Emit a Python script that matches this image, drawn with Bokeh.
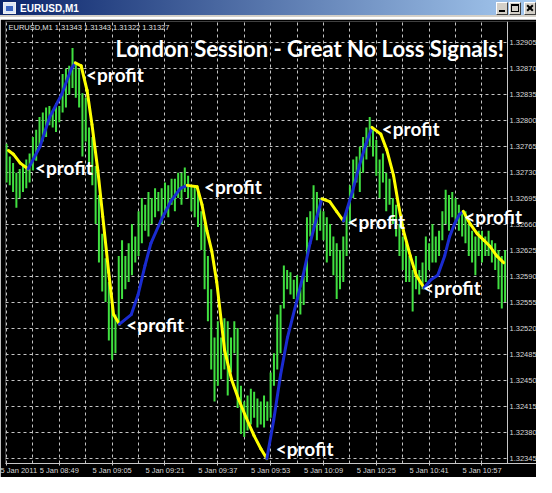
from bokeh.plotting import figure
from bokeh.models import Range1d, FixedTicker, Label, Div
from bokeh.core.properties import value
from bokeh.layouts import column
from bokeh.embed import file_html
from bokeh.resources import INLINE

# ---------------- data ----------------
high = [1.32769, 1.32752, 1.32743, 1.32730, 1.32735, 1.32739, 1.32748, 1.32756, 1.32778, 1.32788,
        1.32805, 1.32811, 1.32818, 1.32820, 1.32814, 1.32824, 1.32820, 1.32863, 1.32870, 1.32874,
        1.32898, 1.32879, 1.32870, 1.32837, 1.32831, 1.32791, 1.32778, 1.32739, 1.32700, 1.32648,
        1.32615, 1.32583, 1.32552, 1.32539, 1.32618, 1.32639, 1.32618, 1.32635, 1.32661, 1.32644,
        1.32678, 1.32696, 1.32687, 1.32704, 1.32696, 1.32709, 1.32704, 1.32709, 1.32717, 1.32713,
        1.32722, 1.32722, 1.32730, 1.32730, 1.32737, 1.32726, 1.32713, 1.32713, 1.32704, 1.32678,
        1.32661, 1.32618, 1.32573, 1.32508, 1.32530, 1.32508, 1.32534, 1.32530, 1.32508, 1.32530,
        1.32521, 1.32443, 1.32422, 1.32430, 1.32439, 1.32435, 1.32426, 1.32422, 1.32430, 1.32422,
        1.32461, 1.32487, 1.32539, 1.32552, 1.32605, 1.32599, 1.32596, 1.32586, 1.32592, 1.32573,
        1.32592, 1.32670, 1.32678, 1.32713, 1.32704, 1.32696, 1.32678, 1.32670, 1.32661, 1.32644,
        1.32635, 1.32626, 1.32644, 1.32678, 1.32713, 1.32748, 1.32752, 1.32765, 1.32778, 1.32791,
        1.32805, 1.32791, 1.32774, 1.32748, 1.32756, 1.32730, 1.32722, 1.32696, 1.32687, 1.32661,
        1.32644, 1.32635, 1.32618, 1.32599, 1.32618, 1.32599, 1.32609, 1.32644, 1.32635, 1.32661,
        1.32644, 1.32652, 1.32678, 1.32707, 1.32700, 1.32704, 1.32696, 1.32687, 1.32678, 1.32678,
        1.32661, 1.32652, 1.32644, 1.32652, 1.32652, 1.32644, 1.32652, 1.32639, 1.32635, 1.32626,
        1.32618, 1.32626]
low = [1.32717, 1.32713, 1.32704, 1.32683, 1.32696, 1.32704, 1.32709, 1.32717, 1.32733, 1.32746,
       1.32765, 1.32772, 1.32778, 1.32794, 1.32791, 1.32785, 1.32798, 1.32811, 1.32818, 1.32835,
       1.32844, 1.32831, 1.32818, 1.32752, 1.32772, 1.32739, 1.32713, 1.32661, 1.32609, 1.32570,
       1.32556, 1.32504, 1.32478, 1.32487, 1.32530, 1.32560, 1.32573, 1.32583, 1.32592, 1.32609,
       1.32618, 1.32635, 1.32652, 1.32644, 1.32661, 1.32670, 1.32678, 1.32661, 1.32678, 1.32670,
       1.32687, 1.32678, 1.32696, 1.32687, 1.32704, 1.32696, 1.32678, 1.32670, 1.32657, 1.32626,
       1.32573, 1.32530, 1.32465, 1.32422, 1.32443, 1.32452, 1.32465, 1.32430, 1.32461, 1.32487,
       1.32413, 1.32378, 1.32374, 1.32383, 1.32391, 1.32400, 1.32387, 1.32391, 1.32387, 1.32396,
       1.32400, 1.32443, 1.32465, 1.32487, 1.32547, 1.32573, 1.32566, 1.32560, 1.32556, 1.32539,
       1.32552, 1.32583, 1.32644, 1.32652, 1.32639, 1.32652, 1.32639, 1.32609, 1.32618, 1.32592,
       1.32560, 1.32573, 1.32583, 1.32618, 1.32661, 1.32696, 1.32717, 1.32704, 1.32730, 1.32748,
       1.32765, 1.32752, 1.32726, 1.32696, 1.32717, 1.32678, 1.32687, 1.32661, 1.32644, 1.32618,
       1.32599, 1.32583, 1.32583, 1.32543, 1.32573, 1.32566, 1.32573, 1.32583, 1.32599, 1.32609,
       1.32609, 1.32618, 1.32639, 1.32661, 1.32652, 1.32670, 1.32661, 1.32652, 1.32644, 1.32635,
       1.32618, 1.32609, 1.32592, 1.32618, 1.32609, 1.32618, 1.32618, 1.32609, 1.32599, 1.32573,
       1.32547, 1.32556]
bar_index = list(range(len(high)))

# smoothed signal line (bar position, price)
ma_x = [0.60, 2.08, 4.17, 6.55, 10.12, 13.09, 16.66, 19.64, 20.83, 22.61, 24.40, 25.89, 27.67,
        29.16, 30.95, 32.43, 34.21, 37.79, 39.87, 41.95, 43.73, 46.71, 49.69, 52.67, 54.75, 57.72,
        59.21, 60.69, 62.19, 63.67, 66.05, 68.13, 70.21, 72.59, 74.97, 77.07, 78.85, 80.93, 83.01,
        85.09, 88.07, 89.85, 91.93, 94.02, 95.51, 97.89, 99.97, 102.05, 104.73, 106.81, 108.89,
        110.68, 113.36, 115.15, 117.23, 118.71, 120.21, 122.29, 124.07, 126.45, 128.53, 130.61,
        132.70, 134.19, 135.67, 137.16, 138.35, 140.43, 142.52, 144.60, 146.38, 148.47, 150.55]
ma_y = [1.32760, 1.32755, 1.32743, 1.32735, 1.32765, 1.32805, 1.32835, 1.32870, 1.32878, 1.32874,
        1.32841, 1.32795, 1.32733, 1.32671, 1.32596, 1.32539, 1.32526, 1.32539, 1.32566, 1.32605,
        1.32635, 1.32665, 1.32691, 1.32709, 1.32713, 1.32711, 1.32687, 1.32652, 1.32624, 1.32583,
        1.32491, 1.32452, 1.32426, 1.32400, 1.32376, 1.32358, 1.32345, 1.32397, 1.32458, 1.32508,
        1.32560, 1.32592, 1.32635, 1.32671, 1.32695, 1.32691, 1.32678, 1.32665, 1.32704, 1.32739,
        1.32769, 1.32791, 1.32782, 1.32761, 1.32726, 1.32687, 1.32652, 1.32618, 1.32592, 1.32575,
        1.32586, 1.32592, 1.32618, 1.32644, 1.32661, 1.32674, 1.32678, 1.32661, 1.32648, 1.32639,
        1.32631, 1.32618, 1.32609]

# "<profit" notes (bar position, price)
profit_x = [8.63, 24.10, 36.30, 59.80, 81.52, 103.24, 113.66, 126.15, 138.65]
profit_y = [1.32737, 1.32862, 1.32525, 1.32712, 1.32358, 1.32664, 1.32789, 1.32575, 1.32671]

time_ticks = [0, 16, 32, 48, 64, 80, 96, 112, 128, 144]
time_labels = ["5 Jan 2011", "5 Jan 08:49", "5 Jan 09:05", "5 Jan 09:21", "5 Jan 09:37",
               "5 Jan 09:53", "5 Jan 10:09", "5 Jan 10:25", "5 Jan 10:41", "5 Jan 10:57"]
grid_ticks = [0, 8, 16, 24, 32, 40, 48, 56, 64, 72, 80, 88, 96, 104, 112, 120, 128, 136, 144, 152]
price_ticks = [1.32345, 1.32380, 1.32415, 1.32450, 1.32485, 1.32520, 1.32555, 1.32590, 1.32625,
               1.32660, 1.32695, 1.32730, 1.32765, 1.32800, 1.32835, 1.32870, 1.32905]
price_labels = ["1.32345", "1.32380", "1.32415", "1.32450", "1.32485", "1.32520", "1.32555",
                "1.32590", "1.32625", "1.32660", "1.32695", "1.32730", "1.32765", "1.32800",
                "1.32835", "1.32870", "1.32905"]

symbol_line = "EURUSD,M1  1.31343 1.31343 1.31322 1.31327"
title_text = "London Session - Great No Loss Signals!"
window_title = "EURUSD,M1"

# layout positions on the time axis (in bar units)
x_start, x_end = -0.297, 160.51
price_axis_x = 151.73      # price scale line
price_label_x = 152.33     # price scale labels
y_bottom, y_top = 1.323384, 1.329337

# ---------------- figure ----------------
p = figure(width=536, height=458, output_backend="svg", toolbar_location=None,
           x_range=Range1d(x_start, x_end), y_range=Range1d(y_bottom, y_top),
           y_axis_location=None,
           min_border_left=5, min_border_right=0, min_border_top=2, min_border_bottom=11,
           background_fill_color="black", border_fill_color="black",
           outline_line_color=None)

grid_color = "#c4c4c4"
p.xgrid.ticker = FixedTicker(ticks=grid_ticks)
p.xgrid.grid_line_color = grid_color
p.xgrid.grid_line_dash = "3 3"
p.ygrid.ticker = FixedTicker(ticks=price_ticks)
p.ygrid.grid_line_color = grid_color
p.ygrid.grid_line_dash = "3 3"

xa = p.xaxis[0]
xa.ticker = FixedTicker(ticks=time_ticks)
xa.major_label_overrides = {t: s for t, s in zip(time_ticks, time_labels)}
xa.major_label_text_align = "left"
xa.major_label_text_font = "Liberation Sans"
xa.major_label_text_font_size = "7.5px"
xa.major_label_text_color = "#d8d8d8"
xa.major_label_standoff = 0
xa.major_tick_out = 2
xa.major_tick_in = 0
xa.minor_tick_line_color = None
xa.axis_line_color = "#c8c8c8"
xa.major_tick_line_color = "#c8c8c8"

# price scale column on the right (black strip, scale line, labels)
p.quad(left=[price_axis_x], right=[x_end], bottom=[y_bottom], top=[y_top],
       fill_color="black", line_color=None)
p.segment(x0=[price_axis_x], y0=[y_bottom], x1=[price_axis_x], y1=[y_top],
          line_color="#c8c8c8", line_width=1)
p.text(x=[price_label_x] * len(price_ticks), y=price_ticks, text=price_labels,
       text_font=value("Liberation Sans"), text_font_size="7.5px", text_color="#d8d8d8",
       text_baseline="middle", text_align="left")

# price bars
p.segment(x0=bar_index, y0=low, x1=bar_index, y1=high, line_color="#40e040", line_width=2)

# signal line: blue while rising, yellow while falling
seg_col = ["#1a2bd0" if ma_y[k + 1] > ma_y[k] else "#ffff00" for k in range(len(ma_y) - 1)]
p.segment(x0=ma_x[:-1], y0=ma_y[:-1], x1=ma_x[1:], y1=ma_y[1:], line_color=seg_col,
          line_width=3, line_cap="round")

for px, py in zip(profit_x, profit_y):
    p.add_layout(Label(x=px, y=py, text="<profit", text_font="Lato", text_font_style="bold",
                       text_font_size="19px", text_color="white", text_baseline="middle",
                       text_align="left"))

p.add_layout(Label(x=33.03, y=1.32897, text=title_text, text_font="Lato", text_font_style="bold",
                   text_font_size="22px", text_color="white", text_baseline="middle",
                   text_align="left"))
p.add_layout(Label(x=0.60, y=1.32925, text=symbol_line, text_font="Liberation Sans",
                   text_font_size="7.5px", text_color="#e0e0e0", text_baseline="middle",
                   text_align="left"))

# ---------------- window title bar ----------------
def button(left, inner):
    return ('<span style="position:absolute;left:%dpx;top:2px;width:12px;height:13px;'
            'background:#d4d0c8;border:1px solid #ffffff;border-right-color:#404040;'
            'border-bottom-color:#404040;box-sizing:border-box;">%s</span>' % (left, inner))

minimize = '<span style="position:absolute;left:2px;top:7px;width:6px;height:2px;background:#000;"></span>'
maximize = ('<span style="position:absolute;left:1px;top:1px;width:8px;height:8px;'
            'border:1px solid #000;border-top-width:2px;box-sizing:border-box;"></span>')
close = ('<span style="position:absolute;left:1px;top:4px;width:8px;height:2px;background:#000;'
         'transform:rotate(45deg);"></span>'
         '<span style="position:absolute;left:1px;top:4px;width:8px;height:2px;background:#000;'
         'transform:rotate(-45deg);"></span>')

bar_html = ('<div style="position:relative;width:536px;height:17px;overflow:hidden;margin:0;'
            'background:linear-gradient(to right,#0a246a,#a6caf0);'
            'border-bottom:2px solid #d4d0c8;">'
            '<span style="position:absolute;left:3px;top:2px;width:13px;height:12px;'
            'background:#dce6f6;border:1px solid #f0f0f0;box-sizing:border-box;"></span>'
            '<span style="position:absolute;left:6px;top:6px;width:7px;height:5px;background:#3a64c0;"></span>'
            '<span style="position:absolute;left:20px;top:0px;font:bold 10px \'Liberation Sans\',sans-serif;'
            'color:#ffffff;white-space:nowrap;line-height:17px;">' + window_title + '</span>'
            + button(496, minimize) + button(509, maximize) + button(524, close) + '</div>')
title_bar = Div(text=bar_html, width=536, height=19, styles={"margin": "0", "padding": "0"})

layout = column(title_bar, p, spacing=0)
open("out.html", "w").write(file_html(layout, INLINE))
